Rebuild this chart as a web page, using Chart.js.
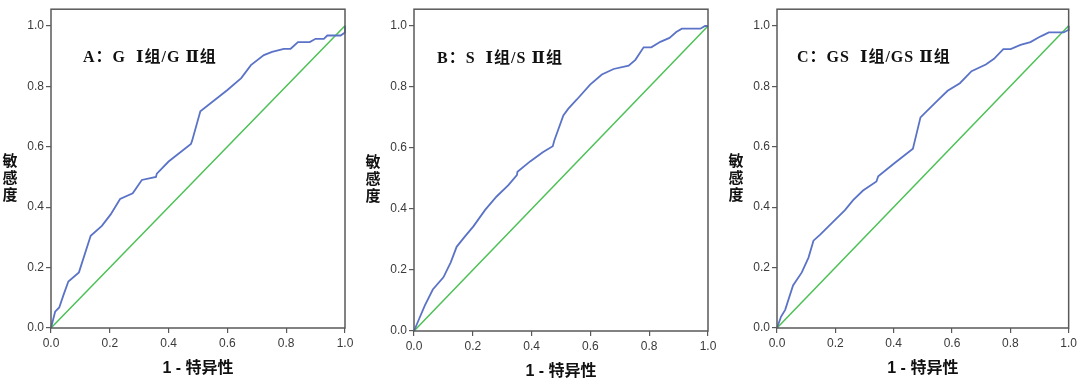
<!DOCTYPE html>
<html>
<head>
<meta charset="utf-8">
<script src="https://cdn.jsdelivr.net/npm/chart.js@4.4.1/dist/chart.umd.min.js"></script>
<style>
  html, body { margin: 0; padding: 0; background: #fff; }
  #wrap { position: relative; width: 1080px; height: 383px; }
  .panel { position: absolute; top: 0; width: 360px; height: 383px; }
</style>
</head>
<body>
<div id="wrap">
  <div class="panel" style="left:0px"><canvas id="cA" width="360" height="383"></canvas></div>
  <div class="panel" style="left:360px"><canvas id="cB" width="360" height="383"></canvas></div>
  <div class="panel" style="left:720px"><canvas id="cC" width="360" height="383"></canvas></div>
</div>
<script>
// ---- data ----
const tickValues = [0.0, 0.2, 0.4, 0.6, 0.8, 1.0];
const xTitle = "1 - 特异性";
const yTitleChars = ["敏", "感", "度"];
const panelLabels = ["A：G  Ⅰ组/G Ⅱ组", "B：S  Ⅰ组/S Ⅱ组", "C：GS  Ⅰ组/GS Ⅱ组"];
const refX = [0, 1];
const refY = [0, 1];

const rocA_x = [0, 0.014, 0.028, 0.042, 0.059, 0.095, 0.135, 0.173, 0.203, 0.235, 0.278, 0.309, 0.357, 0.360, 0.400, 0.476, 0.480, 0.508, 0.599, 0.647, 0.680, 0.724, 0.752, 0.792, 0.815, 0.840, 0.880, 0.900, 0.928, 0.940, 0.985, 1.0, 1.0];
const rocA_y = [0, 0.054, 0.068, 0.108, 0.154, 0.184, 0.305, 0.338, 0.376, 0.427, 0.446, 0.490, 0.500, 0.511, 0.551, 0.609, 0.620, 0.717, 0.787, 0.827, 0.870, 0.903, 0.914, 0.924, 0.924, 0.946, 0.946, 0.957, 0.957, 0.968, 0.968, 0.978, 1.0];

const rocB_x = [0, 0.018, 0.037, 0.064, 0.100, 0.125, 0.145, 0.170, 0.202, 0.242, 0.281, 0.321, 0.350, 0.352, 0.395, 0.438, 0.472, 0.477, 0.508, 0.525, 0.554, 0.599, 0.639, 0.679, 0.730, 0.753, 0.781, 0.807, 0.838, 0.869, 0.892, 0.911, 0.974, 0.990, 1.0];
const rocB_y = [0, 0.041, 0.084, 0.136, 0.176, 0.225, 0.276, 0.306, 0.343, 0.397, 0.441, 0.478, 0.511, 0.522, 0.556, 0.586, 0.606, 0.624, 0.707, 0.729, 0.759, 0.808, 0.841, 0.859, 0.870, 0.889, 0.930, 0.930, 0.948, 0.961, 0.980, 0.991, 0.991, 1.0, 1.0];

const rocC_x = [0, 0.014, 0.028, 0.055, 0.085, 0.108, 0.125, 0.148, 0.193, 0.233, 0.261, 0.295, 0.341, 0.347, 0.398, 0.466, 0.492, 0.511, 0.551, 0.585, 0.627, 0.667, 0.716, 0.744, 0.776, 0.801, 0.835, 0.869, 0.898, 0.915, 0.932, 0.983, 0.998, 1.0];
const rocC_y = [0, 0.038, 0.060, 0.141, 0.184, 0.233, 0.289, 0.309, 0.352, 0.390, 0.423, 0.455, 0.485, 0.502, 0.542, 0.593, 0.697, 0.715, 0.753, 0.785, 0.810, 0.850, 0.872, 0.891, 0.923, 0.923, 0.937, 0.946, 0.962, 0.970, 0.978, 0.978, 0.986, 1.0];

// ---- layout (per panel) ----
const panels = [
  { id: "cA", xs: rocA_x, ys: rocA_y, label: panelLabels[0], left: 51, right: 15, top: 3, bottom: 55, labelDx: 32 },
  { id: "cB", xs: rocB_x, ys: rocB_y, label: panelLabels[1], left: 54, right: 12, top: 5, bottom: 52, labelDx: 23 },
  { id: "cC", xs: rocC_x, ys: rocC_y, label: panelLabels[2], left: 57, right: 10, top: 4, bottom: 55, labelDx: 20 }
];

const BLUE = "#5b73c7";
const GREEN = "#4cc155";
const FRAME = "#595959";
const TICKTXT = "#3a3a3a";

function toPts(xs, ys) { return xs.map((x, i) => ({ x: x, y: ys[i] })); }

const framePlugin = {
  id: "frameAndText",
  afterDraw(chart, args, opts) {
    const ctx = chart.ctx;
    const a = chart.chartArea;
    ctx.save();
    ctx.strokeStyle = FRAME;
    ctx.lineWidth = 1.5;
    ctx.strokeRect(a.left, a.top, a.right - a.left, a.bottom - a.top);

    // panel label
    ctx.fillStyle = "#111";
    ctx.font = "bold 16px 'Liberation Serif', 'DejaVu Serif', 'Noto Sans CJK SC', serif";
    try { ctx.letterSpacing = "1px"; } catch (e) {}
    ctx.textBaseline = "middle";
    ctx.textAlign = "left";
    const yLab = chart.scales.y.getPixelForValue(0.9);
    ctx.fillText(opts.label, a.left + opts.labelDx, yLab + 2);
    try { ctx.letterSpacing = "0px"; } catch (e) {}

    // y title (stacked)
    ctx.font = "bold 15px 'Noto Sans CJK SC', sans-serif";
    ctx.textAlign = "center";
    const yc = chart.scales.y.getPixelForValue(0.5);
    yTitleChars.forEach((ch, i) => {
      ctx.fillText(ch, a.left - 41, yc + (i - 1) * 17);
    });

    // x title
    ctx.font = "bold 16px 'Liberation Sans', 'Noto Sans CJK SC', sans-serif";
    ctx.fillText(xTitle, (a.left + a.right) / 2, a.bottom + 41);
    ctx.restore();
  }
};

panels.forEach(p => {
  new Chart(document.getElementById(p.id), {
    type: "line",
    data: {
      datasets: [
        { data: toPts(p.xs, p.ys), borderColor: BLUE, borderWidth: 1.8, pointRadius: 0, tension: 0, fill: false, clip: false },
        { data: toPts(refX, refY), borderColor: GREEN, borderWidth: 1.5, pointRadius: 0, tension: 0, fill: false, clip: false }
      ]
    },
    options: {
      responsive: false,
      animation: false,
      layout: { padding: { left: 0, right: p.right, top: p.top, bottom: 0 } },
      plugins: {
        legend: { display: false },
        tooltip: { enabled: false },
        frameAndText: { label: p.label, labelDx: p.labelDx }
      },
      scales: {
        x: {
          type: "linear", min: 0, max: 1,
          afterBuildTicks: s => { s.ticks = tickValues.map(v => ({ value: v })); },
          afterFit: s => { s.height = p.bottom; },
          ticks: { color: TICKTXT, font: { family: "'Liberation Sans', Arial, sans-serif", size: 12 }, padding: 3, maxRotation: 0, autoSkip: false, callback: v => Number(v).toFixed(1) },
          grid: { display: true, drawOnChartArea: false, drawTicks: true, tickLength: 5, color: FRAME, lineWidth: 1.2 },
          border: { display: false }
        },
        y: {
          type: "linear", min: 0, max: 1.055,
          afterBuildTicks: s => { s.ticks = tickValues.map(v => ({ value: v })); },
          afterFit: s => { s.width = p.left; },
          ticks: { color: TICKTXT, font: { family: "'Liberation Sans', Arial, sans-serif", size: 12 }, padding: 2, autoSkip: false, callback: v => Number(v).toFixed(1) },
          grid: { display: true, drawOnChartArea: false, drawTicks: true, tickLength: 5, color: FRAME, lineWidth: 1.2 },
          border: { display: false }
        }
      }
    },
    plugins: [framePlugin]
  });
});
</script>
</body>
</html>
